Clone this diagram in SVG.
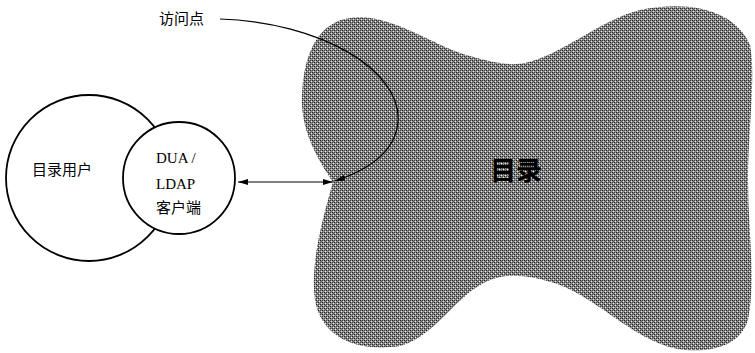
<svg xmlns="http://www.w3.org/2000/svg" width="755" height="353" viewBox="0 0 755 353">
<style>
.circ{fill:#fff;stroke:#000;stroke-width:1.8}
.t{font-family:"Liberation Serif","Noto Sans CJK SC",serif;font-size:15px;fill:#000}
.cn{font-family:"Noto Sans CJK SC",sans-serif;font-size:15px;fill:#000}
.conn{fill:none;stroke:#000;stroke-width:1.2}
</style>
<defs>
<pattern id="dither" width="4" height="4" patternUnits="userSpaceOnUse">
<rect width="4" height="4" fill="#8a8a8a"/>
<rect x="0" y="0" width="1" height="1" fill="#222"/>
<rect x="2" y="2" width="1" height="1" fill="#222"/>
<rect x="1" y="3" width="1" height="1" fill="#e8e8e8"/>
<rect x="3" y="1" width="1" height="1" fill="#e8e8e8"/>
<rect x="2" y="0" width="1" height="1" fill="#444"/>
<rect x="0" y="2" width="1" height="1" fill="#444"/>
<rect x="1" y="1" width="1" height="1" fill="#666"/>
</pattern>
<marker id="ah" viewBox="0 0 10 6" refX="10" refY="3" markerWidth="10" markerHeight="6" markerUnits="userSpaceOnUse" orient="auto-start-reverse">
<path d="M0,0 L10,3 L0,6 z" fill="#000"/>
</marker>
</defs>
<g id="directory">
<path d="M333,182 C318,160 300,130 302,95 C304,50 320,22 350,18 C390,12 430,45 470,56 C495,63 510,66 525,63 C560,56 600,20 640,10 C690,0 735,10 750,45 C756,75 748,130 748,180 C748,230 756,280 748,320 C740,345 715,352 685,350 C640,346 600,300 560,285 C535,276 515,274 500,277 C460,285 440,335 400,346 C360,352 322,340 315,300 C310,265 322,220 333,182 Z" fill="url(#dither)"/>
<text x="516" y="180" text-anchor="middle" font-family="Noto Sans CJK SC,sans-serif" font-weight="bold" font-size="26" fill="#000">目录</text>
</g>
<g id="user">
<circle class="circ" cx="89" cy="178" r="83"/>
<text class="cn" x="32" y="175">目录用户</text>
</g>
<g id="client">
<circle class="circ" cx="179" cy="178" r="56"/>
<text class="t" x="156" y="163">DUA /</text>
<text class="t" x="156" y="189">LDAP</text>
<text class="cn" x="156" y="213">客户端</text>
</g>
<g id="label">
<text class="cn" x="159" y="24">访问点</text>
</g>
<g id="connectors">
<line class="conn" x1="238" y1="182" x2="333" y2="182" marker-start="url(#ah)" marker-end="url(#ah)"/>
<path class="conn" d="M220,19 C320,22 402,70 398,122 C395,155 362,172 335,181" stroke-width="1.5" marker-end="url(#ah)"/>
</g>
</svg>
